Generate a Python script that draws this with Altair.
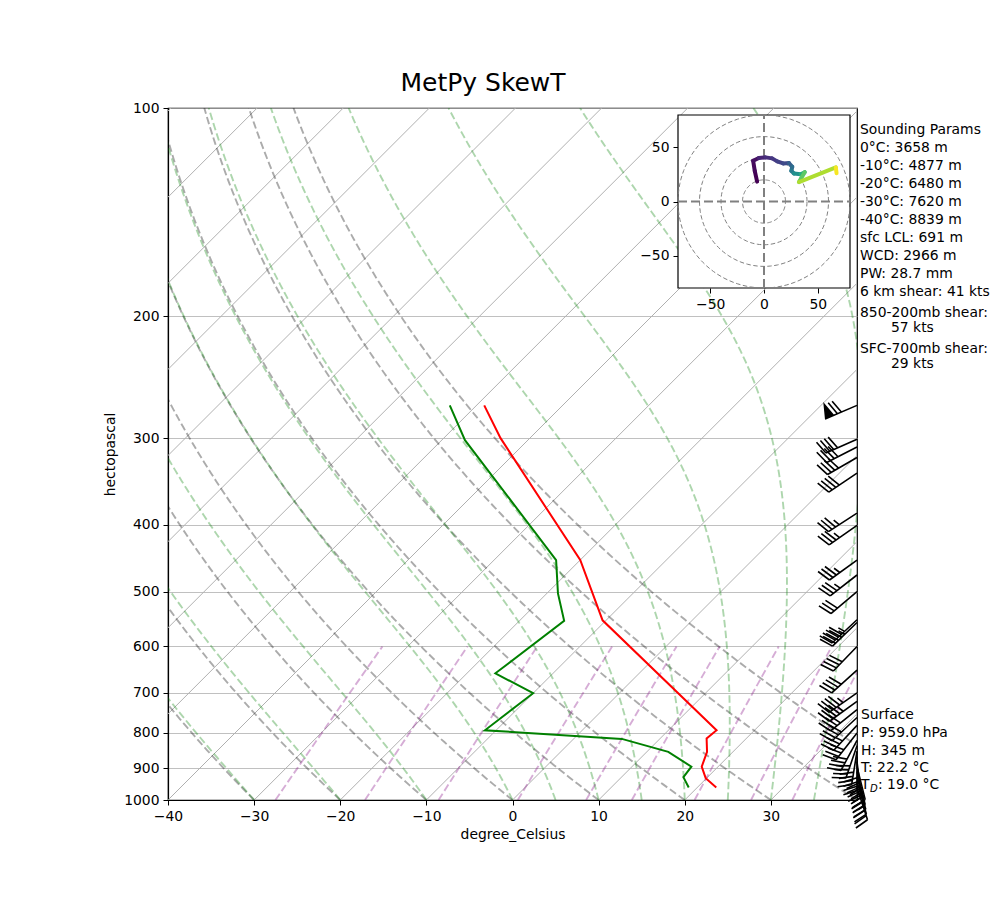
import numpy as np
import pandas as pd
import altair as alt

# ---------------- layout constants ----------------
W, H = 689, 692                      # plot area (pixels)
K = 80.0 * H / W                     # skew: deg C per decade of pressure (45 deg)
FONT = "DejaVu Sans"
FS = 13.9

# ---------------- sounding profiles ----------------
t_pres = [959, 930, 895, 852, 815, 793, 550, 450, 300, 269]
t_vals = [22.2, 19.9, 18.1, 17.0, 15.4, 15.6, -10.4, -20.0, -43.4, -49.1]
td_pres = [959, 927, 895, 852, 816, 793, 701, 656, 551, 503, 450, 302, 269]
td_vals = [19.0, 17.2, 16.9, 12.5, 5.6, -11.3, -10.0, -16.7, -14.8, -18.7, -22.8, -47.3, -53.1]

# wind barbs: pressure (hPa), speed (kt), direction (deg, from)
wind_pres = [959, 940, 925, 910, 895, 880, 865, 850, 835, 820, 800, 780, 760, 740, 720, 700,
             649, 600, 554, 549, 500, 473, 450, 401, 385, 337, 320, 309, 301, 269]
wind_spd = [19, 25, 30, 35, 39, 40, 41, 40, 38, 39, 42, 37, 38, 40, 45, 45,
            40, 40, 45, 45, 30, 35, 35, 35, 35, 40, 40, 40, 40, 70]
wind_dir = [162, 164, 165, 166, 166, 173, 180, 189, 199, 208, 218, 223, 227, 231, 234, 235,
            228, 224, 226, 227, 230, 232, 234, 235, 237, 236, 240, 243, 246, 247]

# hodograph (kt) and height (m) for colouring
hodo_u = [-6.4, -8.6, -10.1, -4.8, 1.4, 7.6, 12.3, 17.9, 23.2, 26.3, 25.4, 27.9, 34.1, 37.9, 32.5, 66.8, 67.5]
hodo_v = [18.4, 28.3, 37.7, 40.2, 40.8, 39.9, 37.1, 35.2, 35.5, 32.1, 28.3, 25.9, 25.2, 27.1, 18.0, 31.5, 26.2]
hodo_h = [0, 200, 400, 1000, 1300, 1600, 1900, 2200, 3000, 3600, 4200, 5000, 6200, 7500, 8800, 9900, 10000]
hodo_rings = [20, 40, 60, 80]
hodo_lim = 80

params_lines = ["Sounding Params", "0°C: 3658 m", "-10°C: 4877 m", "-20°C: 6480 m",
                "-30°C: 7620 m", "-40°C: 8839 m", "sfc LCL: 691 m", "WCD: 2966 m",
                "PW: 28.7 mm", "6 km shear: 41 kts", "850-200mb shear:", "57 kts",
                "SFC-700mb shear:", "29 kts"]
surface_lines = ["Surface", "P: 959.0 hPa", "H: 345 m", "T: 22.2 °C"]
td_label = ": 19.0 °C"

# background line families (old MetPy defaults from the x-limits)
isotherm_t = list(range(-120, 41, 10))
dry_t0 = list(range(-40, 51, 10))
moist_t0 = [-40, -30, -20, -10] + list(range(0, 51, 5))
mix_w = [0.0004, 0.001, 0.002, 0.004, 0.007, 0.01, 0.016, 0.024, 0.032]

# ---------------- derived background curves ----------------
p_grid = np.geomspace(1000, 100, 181)
Rd, Cp, Lv, eps = 287.04749, 1004.6662, 2.50084e6, 0.6219569


def es(T):
    return 6.112 * np.exp(17.67 * (T - 273.15) / (T - 29.65))


def moist_rate(p, T):
    e = es(T)
    rs = eps * e / (p - e)
    return (Rd * T + Lv * rs) / (Cp + Lv * Lv * rs * eps / (Rd * T * T)) / p


def moist_curve(t0c):
    T = t0c + 273.15
    out = [T]
    for i in range(len(p_grid) - 1):
        p0, p1 = p_grid[i], p_grid[i + 1]
        h = p1 - p0
        k1 = moist_rate(p0, T)
        k2 = moist_rate(p0 + h / 2, T + h / 2 * k1)
        k3 = moist_rate(p0 + h / 2, T + h / 2 * k2)
        k4 = moist_rate(p1, T + h * k3)
        T = T + h / 6 * (k1 + 2 * k2 + 2 * k3 + k4)
        out.append(T)
    return np.array(out) - 273.15


rows = []
for t in isotherm_t:
    rows += [dict(id=f"i{t}", p=1000.0, T=t, o=0), dict(id=f"i{t}", p=100.0, T=t, o=1)]
iso_df = pd.DataFrame(rows)

rows = []
for t0 in dry_t0:
    T = (t0 + 273.15) * (p_grid / 1000.0) ** (Rd / Cp) - 273.15
    rows += [dict(id=f"d{t0}", p=p, T=tt, o=k) for k, (p, tt) in enumerate(zip(p_grid, T))]
dry_df = pd.DataFrame(rows)

rows = []
for t0 in moist_t0:
    T = moist_curve(t0)
    rows += [dict(id=f"m{t0}", p=p, T=tt, o=k) for k, (p, tt) in enumerate(zip(p_grid, T))]
moist_df = pd.DataFrame(rows)

rows = []
pm = np.linspace(1000, 600, 21)
for w in mix_w:
    e = w * pm / (eps + w)
    ln = np.log(e / 6.112)
    Td = 243.5 * ln / (17.67 - ln)
    rows += [dict(id=f"w{w}", p=p, T=tt, o=k) for k, (p, tt) in enumerate(zip(pm, Td))]
mix_df = pd.DataFrame(rows)

temp_df = pd.DataFrame(dict(p=t_pres, T=t_vals, o=range(len(t_pres)), id="T"))
dew_df = pd.DataFrame(dict(p=td_pres, T=td_vals, o=range(len(td_pres)), id="Td"))

# ---------------- scales / axes ----------------
xscale = alt.Scale(domain=[-40, 40], nice=False, zero=False)
yscale = alt.Scale(type="log", domain=[100, 1000], reverse=True, nice=False)
xaxis = alt.Axis(values=list(range(-40, 31, 10)), title="degree_Celsius", grid=False,
                 tickSize=5, labelPadding=4, titlePadding=5, format="d", labelFlush=False)
yaxis = alt.Axis(values=list(range(100, 1001, 100)), title="hectopascal", grid=True,
                 gridColor="#b0b0b0", gridWidth=0.8, tickSize=5, labelPadding=4,
                 titlePadding=6, format="d", labelFlush=False)

SKEW = f"datum.T + {K}*log(1000/datum.p)/LN10"


def skew_lines(df, **mk):
    return alt.Chart(df).transform_calculate(xs=SKEW).mark_line(clip=True, **mk).encode(
        x=alt.X("xs:Q", scale=xscale, axis=xaxis),
        y=alt.Y("p:Q", scale=yscale, axis=yaxis),
        detail="id:N",
        order="o:Q",
    )


DASH = [7.5, 3.3]
iso = skew_lines(iso_df, color="#b0b0b0", strokeWidth=1)
dry = skew_lines(dry_df, color="#000000", opacity=0.33, strokeWidth=1.9, strokeDash=DASH)
moist = skew_lines(moist_df, color="#008000", opacity=0.32, strokeWidth=1.9, strokeDash=DASH)
mix = skew_lines(mix_df, color="#800080", opacity=0.32, strokeWidth=1.9, strokeDash=DASH)
temp = skew_lines(temp_df, color="#ff0000", strokeWidth=2)
dew = skew_lines(dew_df, color="#008000", strokeWidth=2)


# ---------------- wind barbs ----------------
def barb_path(spd):
    L = 1.0
    h, w, sp = 0.4 * L, 0.25 * L, 0.125 * L
    s = int(5 * round(spd / 5.0))
    nflag = s // 50
    rem = s - 50 * nflag
    nfull = rem // 10
    nhalf = 1 if rem - 10 * nfull >= 5 else 0
    f = lambda v: f"{v:.4f}"
    parts = [f"M0,0L0,{f(-L)}"]
    off = L
    for _ in range(nflag):
        parts.append(f"M0,{f(-off)}L{f(h)},{f(-off + w / 2)}L0,{f(-off + w)}Z")
        off -= w + sp
    for _ in range(nfull):
        parts.append(f"M0,{f(-off)}L{f(h)},{f(-off - w / 2)}")
        off -= sp
    if nhalf:
        if nflag + nfull == 0:
            off -= 1.5 * sp
        parts.append(f"M0,{f(-off)}L{f(h / 2)},{f(-off - w / 4)}")
    return "".join(parts)


barb_df = pd.DataFrame(dict(p=wind_pres, spd=wind_spd, dir=wind_dir))
barb_df["shape"] = [barb_path(s) for s in wind_spd]
barbs = alt.Chart(barb_df).transform_calculate(xb=str(xscale.domain[1])).mark_point(
    filled=True, fill="black", stroke="black", strokeWidth=1.6, opacity=1, size=68 ** 2
).encode(
    x=alt.X("xb:Q", scale=xscale, axis=xaxis),
    y=alt.Y("p:Q", scale=yscale, axis=yaxis),
    shape=alt.Shape("shape:N", scale=None),
    angle=alt.Angle("dir:Q", scale=None),
)


# ---------------- annotation text ----------------
def txt(s, x, y, size=FS, baseline="middle", align="left", **kw):
    return alt.Chart(pd.DataFrame({"t": [s]})).mark_text(
        align=align, baseline=baseline, fontSize=size, font=FONT, color="black", **kw
    ).encode(x=alt.value(x), y=alt.value(y), text="t:N")


texts = [txt("MetPy SkewT", 315, -17, size=25, baseline="alphabetic", align="center")]
param_y = [22, 40, 58, 76, 94, 112, 130, 148, 166, 184, 205, 220, 240.5, 255.5]
for s, y in zip(params_lines, param_y):
    x = 723 if s.endswith("kts") and ":" not in s else 692
    texts.append(txt(s, x, y))
surf_y = [607, 625, 643, 660]
for s, y in zip(surface_lines, surf_y):
    texts.append(txt(s, 693, y))
texts.append(txt("T", 693, 677))
texts.append(txt("D", 702, 681, size=10, fontStyle="italic"))
texts.append(txt(td_label, 710, 677))

main = alt.layer(iso, dry, moist, mix, temp, dew, barbs, *texts)

# ---------------- hodograph inset ----------------
hxs = alt.Scale(domain=[-hodo_lim, hodo_lim], range=[510, 682], nice=False, zero=False)
hys = alt.Scale(domain=[-hodo_lim, hodo_lim], range=[180, 7], nice=False, zero=False)
hx_axis = alt.Axis(orient="bottom", offset=-(H - 180), values=[-50, 0, 50], grid=False,
                   title=None, tickSize=5, labelPadding=4, domain=False, format="d",
                   labelFlush=False)
hy_axis = alt.Axis(orient="left", offset=-510, values=[-50, 0, 50], grid=False,
                   title=None, tickSize=5, labelPadding=4, domain=False, format="d",
                   labelFlush=False)

frame_df = pd.DataFrame(dict(u0=[-hodo_lim], u1=[hodo_lim], v0=[-hodo_lim], v1=[hodo_lim]))
frame = alt.Chart(frame_df).mark_rect(fill="white", stroke="black", strokeWidth=1.2).encode(
    x=alt.X("u0:Q", scale=hxs, axis=hx_axis), x2="u1:Q",
    y=alt.Y("v0:Q", scale=hys, axis=hy_axis), y2="v1:Q",
)

ang = np.linspace(0, 2 * np.pi, 121)
ring_rows = []
for r in hodo_rings:
    ring_rows += [dict(r=r, u=r * np.cos(a), v=r * np.sin(a), o=k) for k, a in enumerate(ang)]
rings = alt.Chart(pd.DataFrame(ring_rows)).mark_line(
    color="#808080", strokeWidth=1, strokeDash=[4.5, 2.5]
).encode(
    x=alt.X("u:Q", scale=hxs, axis=hx_axis),
    y=alt.Y("v:Q", scale=hys, axis=hy_axis),
    detail="r:N", order="o:Q",
)

cross_df = pd.DataFrame(dict(a0=[-hodo_lim, 0], a1=[hodo_lim, 0], b0=[0, -hodo_lim], b1=[0, hodo_lim]))
cross = alt.Chart(cross_df).mark_rule(color="#808080", strokeWidth=2, strokeDash=[9, 4]).encode(
    x=alt.X("a0:Q", scale=hxs, axis=hx_axis), x2="a1:Q",
    y=alt.Y("b0:Q", scale=hys, axis=hy_axis), y2="b1:Q",
)

seg = pd.DataFrame(dict(u=hodo_u, v=hodo_v, h=hodo_h))
seg["u2"] = seg["u"].shift(-1)
seg["v2"] = seg["v"].shift(-1)
seg = seg.dropna()
hline = alt.Chart(seg).mark_rule(strokeWidth=4, strokeCap="round").encode(
    x=alt.X("u:Q", scale=hxs, axis=hx_axis), x2="u2:Q",
    y=alt.Y("v:Q", scale=hys, axis=hy_axis), y2="v2:Q",
    color=alt.Color("h:Q", scale=alt.Scale(scheme="viridis", domain=[min(hodo_h), max(hodo_h)]),
                    legend=None),
)

hodo = alt.layer(frame, rings, cross, hline)

chart = alt.layer(main, hodo).resolve_scale(
    x="independent", y="independent", color="independent"
).properties(
    width=W, height=H,
    padding={"left": 168, "top": 108, "right": 1000 - 168 - W, "bottom": 900 - 108 - H},
    autosize=alt.AutoSizeParams(type="none"),
    background="white",
).configure_view(stroke="black", strokeWidth=1.2).configure_axis(
    domainColor="black", tickColor="black", labelColor="black", titleColor="black",
    labelFont=FONT, titleFont=FONT, labelFontSize=FS, titleFontSize=FS,
    titleFontWeight="normal", domainWidth=1.2, tickWidth=1,
)

chart.save("out.html", embed_options={"renderer": "svg", "actions": False})
